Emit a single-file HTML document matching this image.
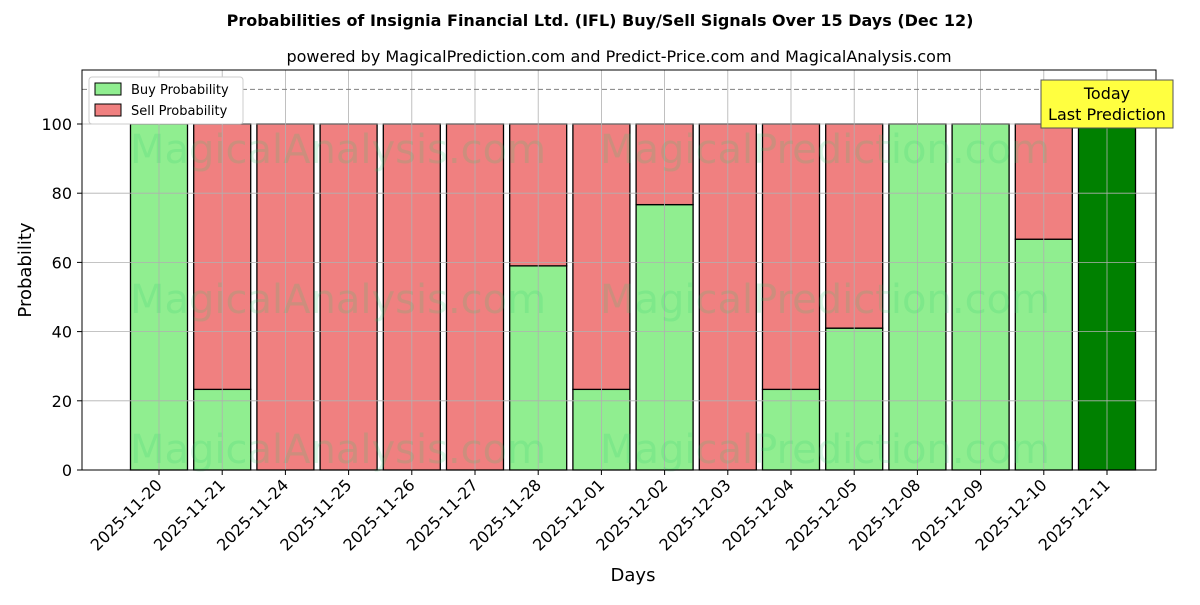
<!DOCTYPE html>
<html><head><meta charset="utf-8"><style>
body{margin:0;background:#fff;font-family:"Liberation Sans","DejaVu Sans",sans-serif;}
svg text{font-family:"DejaVu Sans","Liberation Sans",sans-serif;}
</style></head><body>
<svg id="chart" width="1200" height="600" xmlns="http://www.w3.org/2000/svg">
<text x="600" y="26" text-anchor="middle" font-size="16" font-weight="bold">Probabilities of Insignia Financial Ltd. (IFL) Buy/Sell Signals Over 15 Days (Dec 12)</text>
<text x="619" y="62" text-anchor="middle" font-size="16">powered by MagicalPrediction.com and Predict-Price.com and MagicalAnalysis.com</text>
<g id="bars"></g>
<g id="grid"></g>
<g id="wm" fill="#2ecc71" fill-opacity="0.18" font-size="40">
<text x="130" y="163">MagicalAnalysis.com</text>
<text x="600" y="163">MagicalPrediction.com</text>
<text x="130" y="313">MagicalAnalysis.com</text>
<text x="600" y="313">MagicalPrediction.com</text>
<text x="130" y="463">MagicalAnalysis.com</text>
<text x="600" y="463">MagicalPrediction.com</text>
</g>
<line x1="82" x2="1156" y1="89.4" y2="89.4" stroke="#808080" stroke-dasharray="5,3"/>
<rect x="82" y="70" width="1074" height="400" fill="none" stroke="#000"/>
<g id="ticks"></g>
<text x="633" y="581" text-anchor="middle" font-size="18">Days</text>
<text transform="translate(31,270) rotate(-90)" text-anchor="middle" font-size="18">Probability</text>
<g>
<rect x="89" y="77" width="154" height="47" fill="#fff" stroke="#ccc" rx="3"/>
<rect x="95" y="83" width="26" height="12" fill="#90ee90" stroke="#000"/>
<text x="131" y="94" font-size="13">Buy Probability</text>
<rect x="95" y="104" width="26" height="12" fill="#f08080" stroke="#000"/>
<text x="131" y="115" font-size="13">Sell Probability</text>
</g>
<g>
<rect x="1041" y="80" width="132" height="48" fill="#ffff40" stroke="#555"/>
<text x="1107" y="99" text-anchor="middle" font-size="16">Today</text>
<text x="1107" y="120" text-anchor="middle" font-size="16">Last Prediction</text>
</g>
</svg>
<script>
const categories=["2025-11-20","2025-11-21","2025-11-24","2025-11-25","2025-11-26","2025-11-27","2025-11-28","2025-12-01","2025-12-02","2025-12-03","2025-12-04","2025-12-05","2025-12-08","2025-12-09","2025-12-10","2025-12-11"];
const buyValues=[100,23.3,0,0,0,0,59,23.3,76.7,0,23.3,41,100,100,66.7,100];
const sellValues=[0,76.7,100,100,100,100,41,76.7,23.3,100,76.7,59,0,0,33.3,0];
const yTicks=[0,20,40,60,80,100];
const NS="http://www.w3.org/2000/svg";
const x=i=>159+63.2*i, y=v=>470-3.46*v, bw=57;
function mk(t,a,p){const e=document.createElementNS(NS,t);for(const k in a)e.setAttribute(k,a[k]);p.appendChild(e);return e;}
const grid=document.getElementById('grid'),bars=document.getElementById('bars'),ticks=document.getElementById('ticks');
yTicks.forEach(v=>{
 const g=mk('line',{x1:82,x2:1156,y1:y(v),y2:y(v),stroke:'#b0b0b0','stroke-width':0.8},grid);
 
 
 mk('line',{x1:77,x2:82,y1:y(v),y2:y(v),stroke:'#000'},ticks);
 const t=mk('text',{x:72,y:y(v)+6,'text-anchor':'end','font-size':16},ticks);t.textContent=v;
 
 
});
categories.forEach((c,i)=>{
 const g=mk('line',{x1:x(i),x2:x(i),y1:70,y2:470,stroke:'#b0b0b0','stroke-width':0.8},grid);
 
 
 const last=i===categories.length-1;
 const b=mk('rect',{x:x(i)-bw/2,y:y(buyValues[i]),width:bw,height:470-y(buyValues[i]),fill:last?'#008000':'#90ee90',stroke:'#000','stroke-width':1.3},bars);
 
 
 if(sellValues[i]>0){
  const s=mk('rect',{x:x(i)-bw/2,y:y(buyValues[i]+sellValues[i]),width:bw,height:3.46*sellValues[i],fill:'#f08080',stroke:'#000','stroke-width':1.3},bars);
  
  
 }
 mk('line',{x1:x(i),x2:x(i),y1:470,y2:475,stroke:'#000'},ticks);
 const t=mk('text',{x:x(i)+4,y:486,'text-anchor':'end','font-size':16,transform:`rotate(-45 ${x(i)+4} 486)`},ticks);t.textContent=c;
 
 
});
</script>
</body></html>
